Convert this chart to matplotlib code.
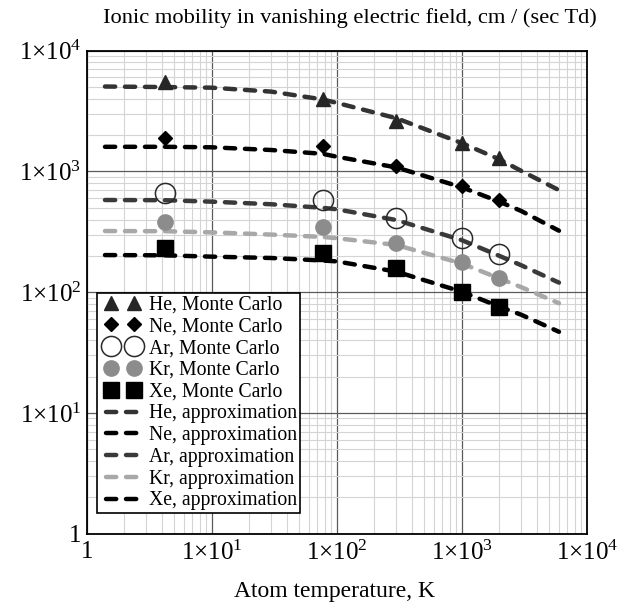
import matplotlib
matplotlib.use("Agg")
import matplotlib.pyplot as plt
from matplotlib.ticker import FixedLocator, FixedFormatter, LogLocator, NullFormatter
from matplotlib.legend_handler import HandlerLine2D

plt.rcParams['font.family'] = ['Liberation Serif', 'DejaVu Serif']
plt.rcParams['mathtext.fontset'] = 'custom'
plt.rcParams['mathtext.rm'] = 'Liberation Serif'
plt.rcParams['mathtext.it'] = 'Liberation Serif:italic'
plt.rcParams['mathtext.bf'] = 'Liberation Serif:bold'

# Monte Carlo data
T_mc = [4.2, 77, 300, 1000, 2000]
he_mc = [5500, 4000, 2620, 1710, 1300]
ne_mc = [1880, 1625, 1110, 762, 580]
ar_mc = [667, 580, 409, 279, 207]
kr_mc = [379, 349, 254, 177, 132]
xe_mc = [232, 212, 158, 101, 75]

# Approximation curves
T_ap = [1.4, 4.2, 10, 30, 77, 100, 300, 1000, 2000, 3000, 6000]
he_ap = [5050, 5000, 4940, 4580, 3950, 3700, 2760, 1720, 1260, 1010, 700]
ne_ap = [1600, 1600, 1585, 1505, 1400, 1325, 1080, 740, 562, 470, 323]
ar_ap = [580, 578, 562, 535, 500, 486, 396, 270, 200, 167, 120]
kr_ap = [321, 320, 313, 300, 287, 280, 246, 173, 130, 110, 81]
xe_ap = [203, 202, 197, 192, 183, 180, 148, 101, 76, 65, 47]

tick_vals = [1, 10, 100, 1000, 10000]
tick_labels = ['1', r'$1×10^{1}$', r'$1×10^{2}$', r'$1×10^{3}$', r'$1×10^{4}$']

W, H = 621, 608
fig = plt.figure(figsize=(W / 100, H / 100), dpi=100)
ax = fig.add_axes([86.7 / W, 1 - 533.7 / H, 500 / W, 483 / H])
ax.set_xscale('log')
ax.set_yscale('log')
ax.set_xlim(1, 1e4)
ax.set_ylim(1, 1e4)

# grid
ax.xaxis.set_major_locator(FixedLocator(tick_vals))
ax.yaxis.set_major_locator(FixedLocator(tick_vals))
ax.xaxis.set_major_formatter(FixedFormatter(tick_labels))
ax.yaxis.set_major_formatter(FixedFormatter(tick_labels))
ax.xaxis.set_minor_locator(LogLocator(base=10, subs=range(2, 10), numticks=20))
ax.yaxis.set_minor_locator(LogLocator(base=10, subs=range(2, 10), numticks=20))
ax.xaxis.set_minor_formatter(NullFormatter())
ax.yaxis.set_minor_formatter(NullFormatter())
ax.grid(which='major', color='#5a5a5a', lw=0.9)
ax.grid(which='minor', color='#d4d4d4', lw=0.8)
ax.set_axisbelow(True)
ax.tick_params(which='both', length=0, labelsize=18)
ax.tick_params(axis='y', pad=4)
ax.tick_params(axis='x', pad=5)
for s in ax.spines.values():
    s.set_linewidth(1.3)
    s.set_color('black')

dash_kw = dict(lw=3.2, dashes=(2.3, 2.2), dash_capstyle='round')
ln_he, = ax.plot(T_ap, he_ap, color='#333333', **dash_kw)
ln_ne, = ax.plot(T_ap, ne_ap, color='#000000', **dash_kw)
ln_ar, = ax.plot(T_ap, ar_ap, color='#3a3a3a', **dash_kw)
ln_kr, = ax.plot(T_ap, kr_ap, color='#a8a8a8', **dash_kw)
ln_xe, = ax.plot(T_ap, xe_ap, color='#000000', **dash_kw)

mk_he, = ax.plot(T_mc, he_mc, ls='none', marker='^', ms=10, color='#262626')
mk_ne, = ax.plot(T_mc, ne_mc, ls='none', marker='D', ms=7, color='#000000')
mk_ar, = ax.plot(T_mc, ar_mc, ls='none', marker='o', ms=14.5, mfc='none', mec='#2a2a2a', mew=1.1)
mk_kr, = ax.plot(T_mc, kr_mc, ls='none', marker='o', ms=11, color='#8c8c8c')
mk_xe, = ax.plot(T_mc, xe_mc, ls='none', marker='s', ms=12, color='#000000')

handles = [mk_he, mk_ne, mk_ar, mk_kr, mk_xe, ln_he, ln_ne, ln_ar, ln_kr, ln_xe]
labels = ['He, Monte Carlo', 'Ne, Monte Carlo', 'Ar, Monte Carlo', 'Kr, Monte Carlo', 'Xe, Monte Carlo',
          'He, approximation', 'Ne, approximation', 'Ar, approximation', 'Kr, approximation', 'Xe, approximation']
hmap = {h: HandlerLine2D(marker_pad=0.55) for h in handles[:5]}
leg = ax.legend(handles, labels, loc='upper left', bbox_to_anchor=(0.02, 0.499), borderaxespad=0,
                numpoints=2, fontsize=14.2, handlelength=2.3, handletextpad=0.2, labelspacing=0.14,
                borderpad=0.15, fancybox=False, framealpha=1, edgecolor='black', handler_map=hmap)
leg.get_frame().set_linewidth(1.2)

fig.text(350 / W, 1 - 18 / H, 'Ionic mobility in vanishing electric field, cm / (sec Td)',
         ha='center', va='center', fontsize=16.2)
fig.text(335 / W, 1 - 592 / H, 'Atom temperature, K', ha='center', va='center', fontsize=17)

fig.savefig('out.png', dpi=100)
